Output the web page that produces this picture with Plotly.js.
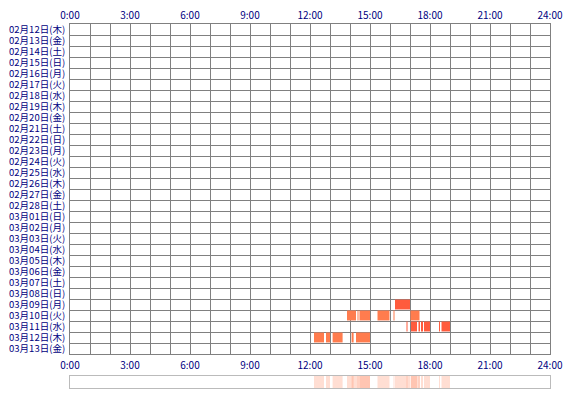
<!DOCTYPE html>
<html><head><meta charset="utf-8">
<script src="https://cdn.plot.ly/plotly-3.0.1.min.js"></script>
<style>html,body{margin:0;padding:0;background:#fff}#chart{width:570px;height:400px}</style>
</head><body><div id="chart"></div>
<script>
const days = ["02月12日(木)","02月13日(金)","02月14日(土)","02月15日(日)","02月16日(月)","02月17日(火)","02月18日(水)","02月19日(木)","02月20日(金)","02月21日(土)","02月22日(日)","02月23日(月)","02月24日(火)","02月25日(水)","02月26日(木)","02月27日(金)","02月28日(土)","03月01日(日)","03月02日(月)","03月03日(火)","03月04日(水)","03月05日(木)","03月06日(金)","03月07日(土)","03月08日(日)","03月09日(月)","03月10日(火)","03月11日(水)","03月12日(木)","03月13日(金)"];
const hourTickVals = [0,3,6,9,12,15,18,21,24];
const hourTickText = ["0:00","3:00","6:00","9:00","12:00","15:00","18:00","21:00","24:00"];

const segDay = [
  "03月09日(月)",
  "03月10日(火)","03月10日(火)","03月10日(火)","03月10日(火)","03月10日(火)","03月10日(火)",
  "03月11日(水)","03月11日(水)","03月11日(水)","03月11日(水)","03月11日(水)","03月11日(水)","03月11日(水)",
  "03月12日(木)","03月12日(木)","03月12日(木)","03月12日(木)","03月12日(木)"
];
const segStart = [16.25, 13.85,14.375,14.475,15.375,16.175,17.025, 16.825,17.05,17.425,17.55,17.7,18.45,18.575, 12.2,12.8,13.13,14.08,14.3];
const segEnd   = [17.0,  14.3,14.425,15.0,15.975,16.225,17.475,  16.875,17.35,17.5,17.65,18.0,18.5,19.0,   12.7,13.0,13.63,14.18,15.0];

const dayColor = {"03月09日(月)":"#FF5B3D","03月10日(火)":"#FF7C4E","03月11日(水)":"#FF5B3D","03月12日(木)":"#FF7C4E"};
const dur = segStart.map((s,i)=>segEnd[i]-s);
const gridC = "#808080";
const txt = {family:"Noto Sans CJK JP, sans-serif", size:10, color:"#000080"};
const ytxt = {family:"Noto Sans CJK JP, sans-serif", size:9.5, color:"#000080"};

const traces = [
  {type:"bar", orientation:"h", y:segDay, x:dur, base:segStart, width:0.9,
   marker:{color:segDay.map(d=>dayColor[d]), line:{width:0}}, xaxis:"x", yaxis:"y", hoverinfo:"skip", showlegend:false},
  {type:"scatter", mode:"none", x:[0,24], y:[days[0],days[0]], xaxis:"x2", yaxis:"y", hoverinfo:"skip", showlegend:false},
  {type:"bar", orientation:"h", y:segDay.map(()=>"all"), x:dur, base:segStart, width:1,
   marker:{color:"#FF7C4E", opacity:0.25, line:{width:0}}, xaxis:"x3", yaxis:"y2", hoverinfo:"skip", showlegend:false}
];

const layout = {
  width:570, height:400,
  margin:{l:70, r:20, t:24, b:12},
  paper_bgcolor:"#fff", plot_bgcolor:"#fff",
  barmode:"overlay",
  font:txt,
  xaxis:{range:[0,24], anchor:"y", side:"bottom", tickvals:hourTickVals, ticktext:hourTickText,
    showgrid:true, gridcolor:gridC, gridwidth:1, zeroline:false,
    minor:{dtick:1, tick0:0, showgrid:true, gridcolor:gridC, gridwidth:1},
    showline:true, linecolor:gridC, linewidth:1, mirror:true, ticks:"", ticklabelstandoff:2,
    tickfont:txt, fixedrange:true},
  xaxis2:{range:[0,24], anchor:"y", overlaying:"x", side:"top", tickvals:hourTickVals, ticktext:hourTickText,
    showgrid:false, zeroline:false, showline:false, ticks:"", tickfont:txt, ticklabelstandoff:2},
  yaxis:{type:"category", categoryarray:days, categoryorder:"array", range:[days.length-0.5,-0.5],
    tickmode:"linear", tick0:0, dtick:1,
    domain:[34/364,1], anchor:"x", tickson:"boundaries", showgrid:true, gridcolor:gridC, gridwidth:1,
    showline:true, linecolor:gridC, linewidth:1, mirror:true, ticks:"", tickfont:ytxt, zeroline:false,
    ticklabelstandoff:2},
  xaxis3:{range:[0,24], anchor:"y2", showgrid:false, zeroline:false, showticklabels:false, ticks:"",
    showline:true, linecolor:"#BBBBBB", linewidth:1, mirror:true},
  yaxis2:{domain:[0,12/364], anchor:"x3", showgrid:false, zeroline:false, showticklabels:false, ticks:"",
    showline:true, linecolor:"#BBBBBB", linewidth:1, mirror:true, range:[-0.5,0.5]}
};

Plotly.newPlot("chart", traces, layout, {displayModeBar:false, staticPlot:true});
</script></body></html>
